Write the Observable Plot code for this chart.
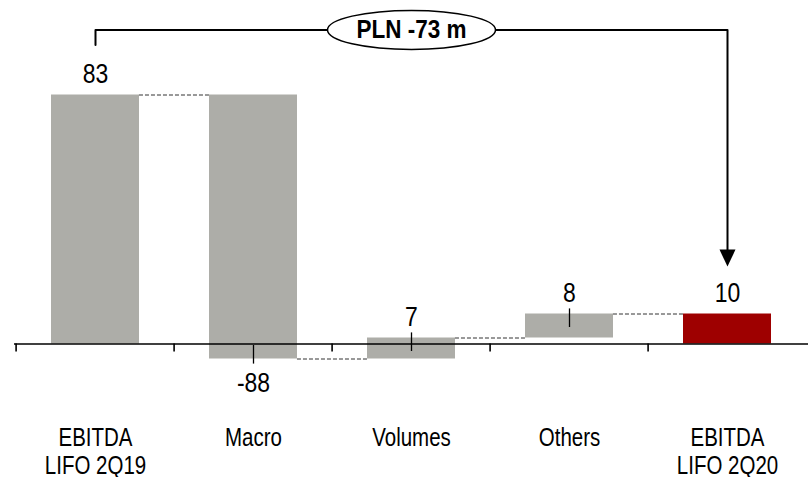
<!DOCTYPE html>
<html><head><meta charset="utf-8">
<script src="https://cdn.jsdelivr.net/npm/d3@7"></script>
<script src="https://cdn.jsdelivr.net/npm/@observablehq/plot@0.6"></script>
<style>body{margin:0;background:#fff}</style>
</head><body><div id="chart"></div>
<script>
// ---- data ----
const categories = ["EBITDA\nLIFO 2Q19", "Macro", "Volumes", "Others", "EBITDA\nLIFO 2Q20"];
const values = [83, -88, 7, 8, 10];
const kinds = ["total", "delta", "delta", "delta", "total"];
const currency = "PLN";
const unitSuffix = "m";
// annotation levels (data units)
const bracketLevel = 104.7;
const bracketStartLevel = 99.7;
const arrowTipLevel = 25.8;

// ---- derived waterfall table ----
let running = 0;
const rows = categories.map((c, i) => {
  let y1, y2;
  if (kinds[i] === "total") { y1 = 0; y2 = values[i]; running = values[i]; }
  else { y1 = running; y2 = running + values[i]; running = y2; }
  return {cat: c, value: values[i], kind: kinds[i], y1, y2, last: i === categories.length - 1};
});
const connectors = rows.slice(0, -1).map((r, i) => ({a: r.cat, b: rows[i + 1].cat, level: r.y2}));
const leaders = rows.filter(r => r.kind === "delta").map(r => {
  const s = Math.sign(r.value);
  return {cat: r.cat, y1: r.y2 + s * 1.7, y2: r.y2 - s * 4.5};
});
const labels = rows.map(r => ({cat: r.cat, y: r.y2, text: String(r.value), up: r.kind === "total" || r.value >= 0}));
const first = rows[0], lastRow = rows[rows.length - 1];
const bracket = [
  {x: first.cat, y: bracketStartLevel},
  {x: first.cat, y: bracketLevel},
  {x: lastRow.cat, y: bracketLevel},
  {x: lastRow.cat, y: arrowTipLevel + 3}
];
const changeText = `${currency} ${lastRow.value - first.value} ${unitSuffix}`;
const midCat = categories[Math.floor(categories.length / 2)];

const W = 808, H = 477, ML = 14;
const step = (W - ML) / categories.length;
const pInner = 0.446, pOuter = 0.223;
const bw = step * (1 - pInner);

const ellipseSymbol = {draw(ctx) {
  const rx = 84, ry = 19.5, k = 0.5523;
  ctx.moveTo(rx, 0);
  ctx.bezierCurveTo(rx, ry * k, rx * k, ry, 0, ry);
  ctx.bezierCurveTo(-rx * k, ry, -rx, ry * k, -rx, 0);
  ctx.bezierCurveTo(-rx, -ry * k, -rx * k, -ry, 0, -ry);
  ctx.bezierCurveTo(rx * k, -ry, rx, -ry * k, rx, 0);
  ctx.closePath();
}};
const arrowSymbol = {draw(ctx) {
  ctx.moveTo(-8, -17); ctx.lineTo(8, -17); ctx.lineTo(0, 0); ctx.closePath();
}};

const font = '"Liberation Sans", Arial, sans-serif';
const grey = "#adada8", red = "#9e0000";

const chart = Plot.plot({
  width: W, height: H,
  marginLeft: ML, marginRight: 0, marginTop: 0, marginBottom: 0,
  x: {domain: categories, paddingInner: pInner, paddingOuter: pOuter, axis: null},
  y: {domain: [-44.5, 114.5], axis: null},
  style: {fontFamily: font, background: "white", color: "#000"},
  marks: [
    Plot.barY(rows, {x: "cat", y1: "y1", y2: "y2", fill: r => r.last ? red : grey}),
    Plot.ruleY([0], {stroke: "#000", strokeWidth: 1.6}),
    Plot.ruleX(categories, {x: d => d, y1: 0, y2: -2.7, dx: -step / 2, stroke: "#000", strokeWidth: 1.6}),
    Plot.ruleY(connectors, {x1: "a", x2: "b", y: "level", insetLeft: bw, insetRight: bw, stroke: "#333", strokeWidth: 1, strokeDasharray: "4,2"}),
    Plot.ruleX(leaders, {x: "cat", y1: "y1", y2: "y2", stroke: "#000", strokeWidth: 1.3}),
    Plot.text(labels.filter(d => d.up), {x: "cat", y: "y", text: "text", dy: -21, fontSize: 28, lineAnchor: "middle", fill: "#000"}),
    Plot.text(labels.filter(d => !d.up), {x: "cat", y: "y", text: "text", dy: 24, fontSize: 28, lineAnchor: "middle", fill: "#000"}),
    Plot.text(categories, {x: d => d, frameAnchor: "bottom", dy: -51, lineAnchor: "top", fontSize: 25, lineHeight: 1.1, fill: "#000"}),
    Plot.line(bracket, {x: "x", y: "y", stroke: "#000", strokeWidth: 2}),
    Plot.dot([{x: lastRow.cat, y: arrowTipLevel}], {x: "x", y: "y", symbol: arrowSymbol, fill: "#000", stroke: "none"}),
    Plot.dot([{x: midCat, y: bracketLevel}], {x: "x", y: "y", symbol: ellipseSymbol, fill: "white", stroke: "#000", strokeWidth: 1.5}),
    Plot.text([{x: midCat, y: bracketLevel, t: changeText}], {x: "x", y: "y", text: "t", fontSize: 25, fontWeight: "bold", lineAnchor: "middle", fill: "#000"})
  ]
});
// condense text horizontally (about its anchor) to mimic a narrow typeface
chart.querySelectorAll('g[aria-label="text"] text').forEach(t => {
  const bold = t.closest('g').getAttribute('font-weight') === 'bold';
  const k = bold ? 0.9 : 0.82;
  const tr = t.getAttribute('transform') || '';
  t.setAttribute('transform', `${tr} scale(${k},1)`);
});
document.getElementById("chart").appendChild(chart);
</script>
</body></html>
